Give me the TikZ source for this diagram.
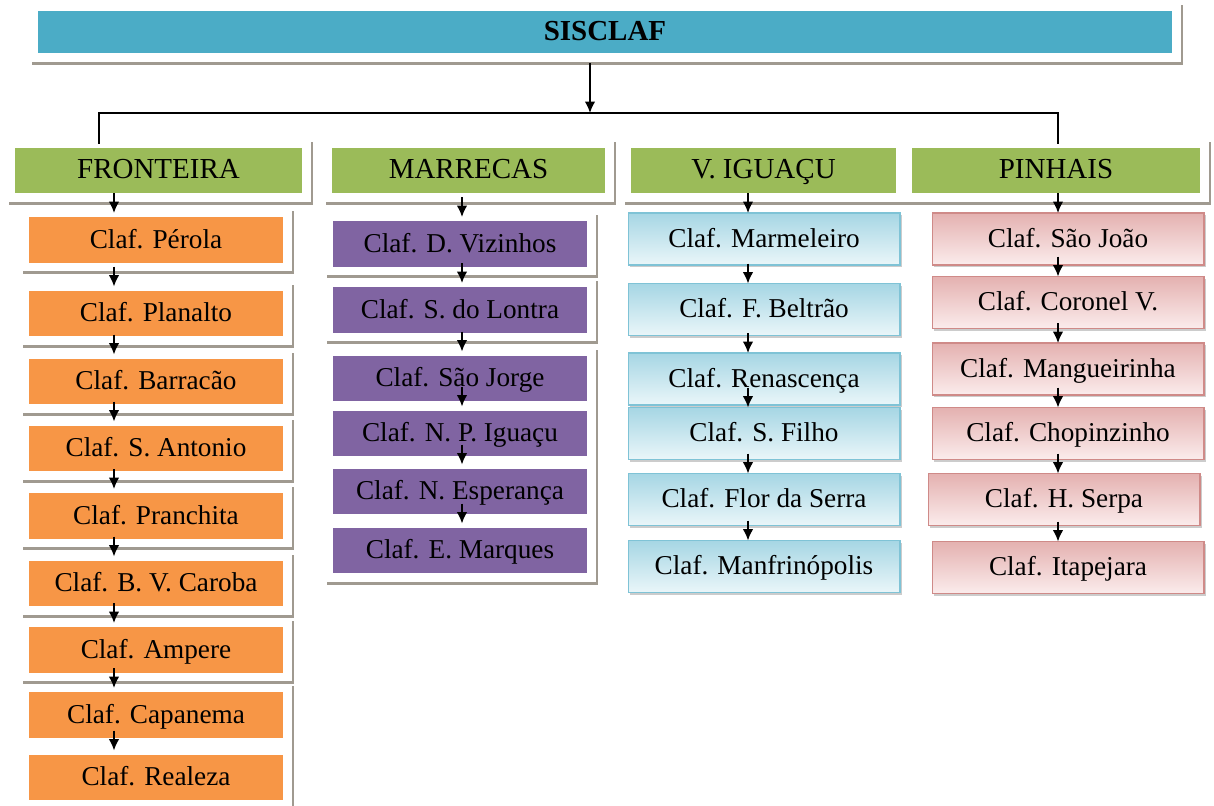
\documentclass[tikz,border=0pt]{standalone}
\usepackage{fontspec}
\setmainfont{Liberation Serif}
\usetikzlibrary{arrows.meta,shadows,calc}

\definecolor{TopBlue}{HTML}{4BACC6}
\definecolor{HeadGreen}{HTML}{9BBB59}
\definecolor{BoxOrange}{HTML}{F79646}
\definecolor{BoxPurple}{HTML}{8064A2}
\definecolor{FrameShadow}{HTML}{A09A90}
\definecolor{BlueTop}{HTML}{A6D6E4}
\definecolor{BlueBottom}{HTML}{EAF6F9}
\definecolor{BlueEdge}{HTML}{7FC3D6}
\definecolor{RedTop}{HTML}{E4B1B0}
\definecolor{RedBottom}{HTML}{FBECEC}
\definecolor{RedEdge}{HTML}{CF8A88}

\tikzset{
    >={Latex[length=6.5pt,width=6pt]},
    label font/.style={font=\fontsize{15.5}{18}\selectfont, text height=12pt, text depth=2.5pt},
    framed/.style={label font, draw=white, line width=5pt, inner sep=0pt, outer sep=0pt,
        preaction={draw=FrameShadow, line width=5pt,
            transform canvas={shift={(1.4pt,-1.6pt)}}}},
    shaded box/.style={label font, line width=0.6pt, inner sep=0pt, outer sep=0pt,
        minimum width=5.44cm, minimum height=1.04cm,
        drop shadow={shadow xshift=1.2pt,shadow yshift=-1.2pt,opacity=.4}},
    top box/.style={framed, fill=TopBlue, minimum width=22.86cm, minimum height=1.02cm,
        font=\fontsize{16.5}{18}\selectfont\bfseries},
    head box/.style={framed, fill=HeadGreen, minimum height=1.08cm,
        font=\fontsize{16.5}{18}\selectfont},
    orange box/.style={framed, fill=BoxOrange, minimum width=5.26cm, minimum height=1.08cm},
    purple box/.style={framed, fill=BoxPurple, minimum width=5.26cm, minimum height=1.08cm},
    blue box/.style={shaded box, draw=BlueEdge, top color=BlueTop, bottom color=BlueBottom},
    red box/.style={shaded box, draw=RedEdge, top color=RedTop, bottom color=RedBottom},
    link/.style={->, line width=1pt}
}

% short arrow ending on the top of a box, at the column's x
\newcommand\Down[2]{%
    \draw[link] ($(#1.north -| #2)+(0,-20)$) -- (#1.north -| #2);
}

\begin{document}
\begin{tikzpicture}[x=0.02cm,y=-0.02cm]
    \useasboundingbox (0,0) rectangle (1214,805);

    \node[top box] (sisclaf) at (605,32) {SISCLAF};

    % regions
    \node[head box, minimum width=5.92cm] (fronteira) at (158.5,170.5) {FRONTEIRA};
    \node[head box, minimum width=5.64cm] (marrecas) at (468.5,170.5) {MARRECAS};
    \node[head box, minimum width=5.48cm] (iguacu) at (763.5,170.5) {V. IGUAÇU};
    \node[head box, minimum width=5.94cm] (pinhais) at (1056,170.5) {PINHAIS};

    \coordinate (Hub) at (590,113);
    \coordinate (LeftEnd) at (99,0);
    \coordinate (RightEnd) at (1058,0);
    \draw[line width=0.8pt] (fronteira.north -| LeftEnd) |- (Hub) -| (pinhais.north -| RightEnd);
    \draw[link] ($(sisclaf.south -| Hub)+(0,6)$) -- (Hub);

    % columns: x of the arrows
    \coordinate (fa) at (114,0);
    \coordinate (ma) at (462,0);
    \coordinate (va) at (748,0);
    \coordinate (pa) at (1058,0);

    \foreach \y/\name [count=\i] in {240/Pérola, 313.5/Planalto, 381.5/Barracão,
        448.5/S. Antonio, 516/Pranchita, 583.5/B. V. Caroba, 650/Ampere,
        715/Capanema, 777.5/Realeza}
        \node[orange box] (f\i) at (156,\y) {Claf. \name};

    \foreach \y/\name [count=\i] in {244/D. Vizinhos, 310/S. do Lontra,
        378.5/São Jorge, 433.5/N. P. Iguaçu, 491.5/N. Esperança, 550.5/E. Marques}
        \node[purple box] (m\i) at (460,\y) {Claf. \name};

    \foreach \y/\name [count=\i] in {239/Marmeleiro, 309.5/F. Beltrão,
        379/Renascença, 433.5/S. Filho, 499.5/Flor da Serra, 566.5/Manfrinópolis}
        \node[blue box] (v\i) at (764,\y) {Claf. \name};

    \foreach \x/\y/\name [count=\i] in {1068/239/São João, 1068/302.5/Coronel V.,
        1068/369/Mangueirinha, 1068/433.5/Chopinzinho, 1064/499.5/H. Serpa,
        1068/567.5/Itapejara}
        \node[red box] (p\i) at (\x,\y) {Claf. \name};

    % arrows
    \Down{f1}{fa}
    \Down{m1}{ma}
    \Down{v1}{va}
    \Down{p1}{pa}
    \foreach \i in {2,...,9} {\Down{f\i}{fa}}
    \foreach \i in {2,...,6} {
        \Down{m\i}{ma}
        \Down{v\i}{va}
        \Down{p\i}{pa}
    }
\end{tikzpicture}
\end{document}
